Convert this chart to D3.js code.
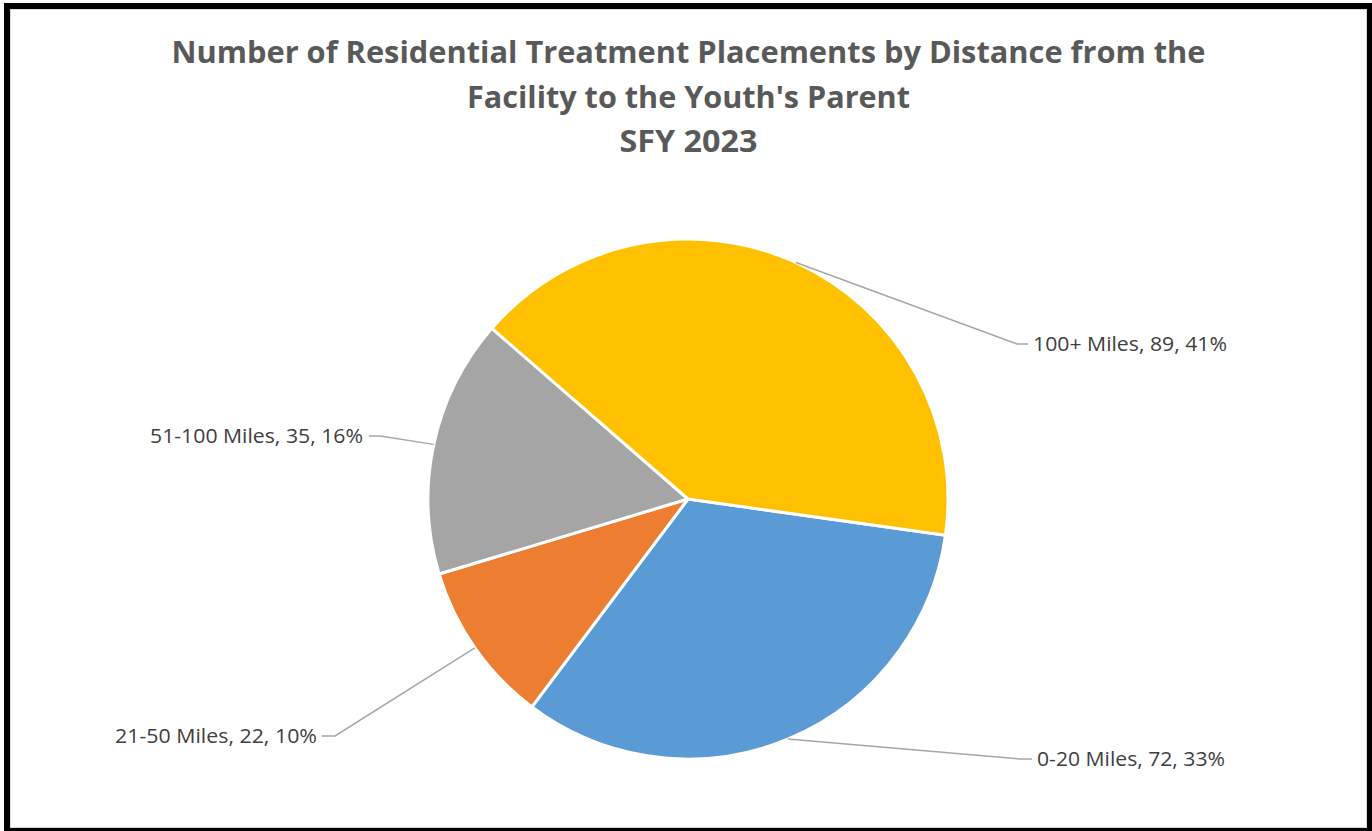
<!DOCTYPE html>
<html>
<head>
<meta charset="utf-8">
<script src="https://cdn.jsdelivr.net/npm/d3@7"></script>
<style>
  body { margin: 0; background: #fff; }
  text { font-family: "Open Sans", "Liberation Sans", sans-serif; }
</style>
</head>
<body>
<div id="chart"></div>
<script>
// Data
let categories = ['0-20 Miles', '21-50 Miles', '51-100 Miles', '100+ Miles'];
let counts = [72, 22, 35, 89];
let percents = ['33%', '10%', '16%', '41%'];
let colors = ['#5B9BD5', '#ED7D31', '#A5A5A5', '#FFC000'];
let titleLines = [
  'Number of Residential Treatment Placements by Distance from the',
  'Facility to the Youth\'s Parent',
  'SFY 2023'
];

let W = 1372; // width
let H = 831; // height
let cx = 688, cy = 499; // pie centre
let R = 260; // pie radius

// where Excel put each data label (elbow of the leader, text side)
let labelLayout = {
  '0-20 Miles':   { elbow: [1020, 759], end: [1032, 759], anchor: 'start', tx: 1037, width: 188 },
  '21-50 Miles':  { elbow: [335, 736],  end: [322, 736],  anchor: 'end',   tx: 317,  width: 202 },
  '51-100 Miles': { elbow: [380, 436],  end: [369, 436],  anchor: 'end',   tx: 363,  width: 213 },
  '100+ Miles':   { elbow: [1017, 344], end: [1028, 344], anchor: 'start', tx: 1033, width: 194 }
};

let rows = categories.map((c, i) => ({ name: c, value: counts[i], pct: percents[i], color: colors[i] }));

let svg = d3.select('#chart').append('svg').attr('width', W).attr('height', H);

// Chart frame
svg.append('rect').attr('x', 7).attr('y', 6).attr('width', 1363).attr('height', 825)
    .attr('fill', '#fff').attr('stroke', '#000').attr('stroke-width', 6);
svg.append('rect').attr('x', 10.5).attr('y', 9.5).attr('width', 1356).attr('height', 818)
    .attr('fill', 'none').attr('stroke', '#d9d9d9').attr('stroke-width', 1);

// Title
let titleWidths = [1034, 443, 138];
let titleBase = [63, 108, 152];
svg.selectAll('text.title').data(titleLines).enter().append('text')
    .attr('class', 'title')
    .attr('x', 688.5)
    .attr('y', (d, i) => titleBase[i])
    .attr('text-anchor', 'middle')
    .attr('font-size', 31)
    .attr('font-weight', 'bold')
    .attr('fill', '#595959')
    .attr('textLength', (d, i) => titleWidths[i])
    .attr('lengthAdjust', 'spacingAndGlyphs')
    .text(d => d);

// Pie, first slice starting at ~98 degrees like the Excel chart
let start = 98 * Math.PI / 180;
let pie = d3.pie().sort(null).value(d => d.value)
    .startAngle(start).endAngle(start + 2 * Math.PI);
let arc = d3.arc().innerRadius(0).outerRadius(R);
let edge = d3.arc().innerRadius(R).outerRadius(R);

let g = svg.append('g').attr('transform', `translate(${cx}, ${cy})`);
let slices = pie(rows);

g.selectAll('path').data(slices).enter().append('path')
    .attr('d', arc)
    .attr('fill', d => d.data.color)
    .attr('stroke', '#fff')
    .attr('stroke-width', 3)
    .attr('stroke-linejoin', 'round');

// Leader lines
svg.selectAll('polyline.leader').data(slices).enter().append('polyline')
    .attr('class', 'leader')
    .attr('fill', 'none')
    .attr('stroke', '#A6A6A6')
    .attr('stroke-width', 1.5)
    .attr('points', d => {
      let p = edge.centroid(d);
      let L = labelLayout[d.data.name];
      return [[cx + p[0], cy + p[1]], L.elbow, L.end].map(q => q.join(',')).join(' ');
    });

// Data labels
svg.selectAll('text.label').data(slices).enter().append('text')
    .attr('class', 'label')
    .attr('x', d => labelLayout[d.data.name].tx)
    .attr('y', d => labelLayout[d.data.name].end[1] + 7)
    .attr('text-anchor', d => labelLayout[d.data.name].anchor)
    .attr('font-size', 20)
    .attr('fill', '#404040')
    .attr('textLength', d => labelLayout[d.data.name].width)
    .attr('lengthAdjust', 'spacingAndGlyphs')
    .text(d => `${d.data.name}, ${d.data.value}, ${d.data.pct}`);
</script>
</body>
</html>
